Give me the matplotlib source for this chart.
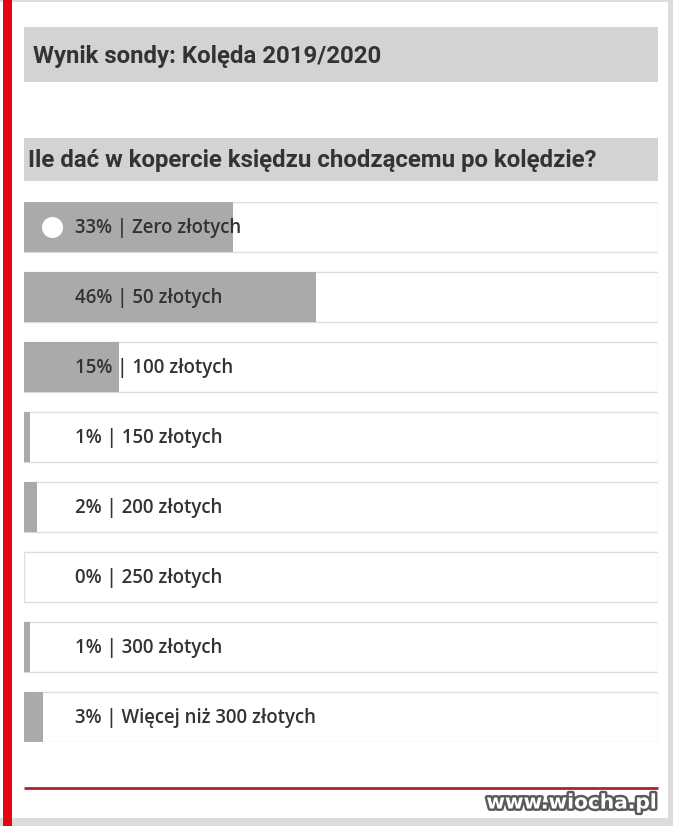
import matplotlib.pyplot as plt
import matplotlib.patheffects as pe
from matplotlib.patches import Rectangle

# Poll data
title = "Wynik sondy: Kolęda 2019/2020"
question = "Ile dać w kopercie księdzu chodzącemu po kolędzie?"
answers = ["Zero złotych", "50 złotych", "100 złotych", "150 złotych",
           "200 złotych", "250 złotych", "300 złotych", "Więcej niż 300 złotych"]
percents = [33, 46, 15, 1, 2, 0, 1, 3]
watermark = "www.wiocha.pl"

W, H = 673, 826
fig = plt.figure(figsize=(W / 100, H / 100), dpi=100)
fig.patch.set_facecolor("#dcdcdc")

# Page chrome in pixel coordinates
bg = fig.add_axes([0, 0, 1, 1])
bg.set_xlim(0, W)
bg.set_ylim(H, 0)
bg.axis("off")
bg.add_patch(Rectangle((0, 2), 668, 816, facecolor="white", edgecolor="none"))
bg.add_patch(Rectangle((3, 0), 9, H, facecolor="#e30613", edgecolor="none"))

# Header boxes
bg.add_patch(Rectangle((24, 27), 634, 55, facecolor="#d3d3d3", edgecolor="none"))
bg.text(33, 56, title, fontsize=17.3, fontweight="bold", family="Roboto",
        color="#333333", va="center", ha="left")
bg.add_patch(Rectangle((24, 138), 634, 43, facecolor="#d3d3d3", edgecolor="none"))
bg.text(28, 160, question, fontsize=17.3, fontweight="bold", family="Roboto",
        color="#333333", va="center", ha="left")

# Footer line + watermark
bg.plot([24, 658], [788, 788], color="#b4202a", lw=2, solid_capstyle="butt")
bg.text(657, 803, watermark, fontsize=14.5, fontweight="bold", family="DejaVu Sans",
        color="white", ha="right", va="center",
        path_effects=[pe.withStroke(linewidth=3.5, foreground="#5a5a5a")])

# Result bars
n = len(answers)
ax_top, ax_bot = 202, 742
ax = fig.add_axes([24 / W, 1 - ax_bot / H, 634 / W, (ax_bot - ax_top) / H])
ax.axis("off")
h = 50 / 70
ys = list(range(n))
ax.barh(ys, [100] * n, height=h, color="white", edgecolor="#dddddd", linewidth=1)
ax.barh(ys, percents, height=h, color="#aaaaaa", edgecolor="none")
ax.set_xlim(0, 100)
ax.set_ylim(n - 1 + h / 2, -h / 2)

for y, p, a in zip(ys, percents, answers):
    ax.text(8.05, y + 0.02, f"{p}% | {a}", fontsize=13.4, family="Open Sans",
            fontweight="semibold", color="#333333", va="center", ha="left")

# radio marker on first answer
ax.scatter([4.4], [0], s=200, color="white", zorder=3)

fig.savefig("out.png", dpi=100, facecolor=fig.get_facecolor())
